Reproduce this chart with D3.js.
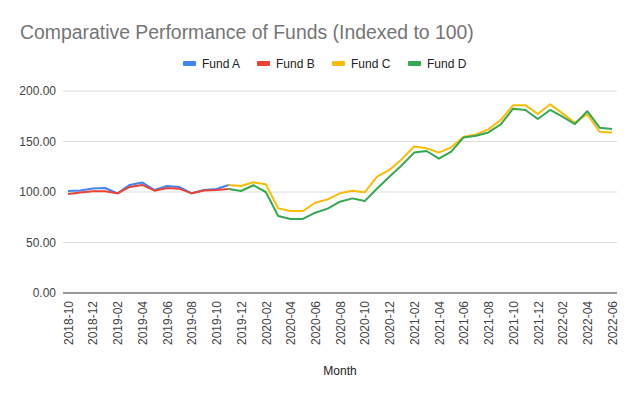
<!DOCTYPE html>
<html>
<head>
<meta charset="utf-8">
<script src="https://cdn.jsdelivr.net/npm/d3@7"></script>
<style>
  body { margin: 0; background: #fff; }
  svg { display: block; font-family: Arial, "Liberation Sans", sans-serif; }
</style>
</head>
<body>
<svg width="640" height="396"></svg>
<script>
// months 2018-10 .. 2022-06
var months = [];
for (var yr = 2018, mo = 10; yr < 2022 || (yr == 2022 && mo <= 6); mo++) {
  if (mo > 12) { mo = 1; yr++; }
  months.push(yr + "-" + (mo < 10 ? "0" + mo : mo));
}

var seriesNames = ["Fund A", "Fund B", "Fund C", "Fund D"];
var colors = ["#4285f4", "#ea4335", "#fbbc04", "#34a853"];

// Fund A / B: 2018-10 .. 2019-11
var fundA = [101, 101.5, 103.5, 104, 98.7, 107, 109.5, 102, 106, 105, 98.7, 102, 103, 107];
var fundB = [98, 99.5, 100.7, 100.7, 98.7, 105, 107, 101.3, 104, 103.3, 98.7, 101.5, 102, 103];
// Fund C / D: 2019-11 .. 2022-06
var fundC = [107, 106, 109.6, 107.6, 83.8, 81.2, 81.2, 89.4, 92.7, 98.7, 101.3, 99.7, 115.2, 121.8, 132.5,
             145, 143.3, 139, 144.2, 154.7, 157, 162, 171.3, 185.8, 186, 177.2, 186.8, 177.9, 168.6, 177, 159.7, 159];
var fundD = [103, 101, 106.7, 100, 76.2, 73.3, 73.3, 79.5, 83.5, 90.4, 93.7, 91, 103.5, 115, 126.5,
             139, 140.6, 133, 140, 154, 155.7, 159, 167, 182.5, 181.2, 172.3, 181.2, 174.6, 167.3, 180, 163.7, 162.4];
var startC = 13;

var yTicks = [0, 50, 100, 150, 200];

var svg = d3.select("svg");
var plotLeft = 63, plotRight = 617, plotTop = 91, plotBottom = 293;

var x = d3.scalePoint().domain(months).range([68, 612]);
var yScale = d3.scaleLinear().domain([0, 200]).range([plotBottom, plotTop]);

// title
svg.append("text").attr("x", 20).attr("y", 39).text("Comparative Performance of Funds (Indexed to 100)")
  .style("font-size", "19.4px").style("fill", "#757575");

// legend
var legendX = [183, 257, 332, 408];
seriesNames.forEach(function(name, i) {
  svg.append("rect").attr("x", legendX[i]).attr("y", 61).attr("width", 13).attr("height", 5)
    .attr("rx", 1).style("fill", colors[i]);
  svg.append("text").attr("x", legendX[i] + 19).attr("y", 68).text(name)
    .style("font-size", "12px").style("fill", "#222");
});

// grid
svg.append("g").selectAll("line").data(yTicks.filter(function(d) { return d > 0; })).enter().append("line")
  .attr("x1", plotLeft).attr("x2", plotRight)
  .attr("y1", function(d) { return yScale(d); }).attr("y2", function(d) { return yScale(d); })
  .style("stroke", "#dcdcdc").style("stroke-width", 1);

// y labels
svg.append("g").selectAll("text").data(yTicks).enter().append("text")
  .attr("x", 56).attr("y", function(d) { return yScale(d) + 4; })
  .attr("text-anchor", "end").text(function(d) { return d3.format(".2f")(d); })
  .style("font-size", "12px").style("fill", "#444");

// x axis labels
var xAxis = d3.axisBottom(x).tickValues(months.filter(function(d, i) { return i % 2 == 0; })).tickSize(0);
var gx = svg.append("g").attr("transform", "translate(0," + plotBottom + ")").call(xAxis);
gx.select(".domain").remove();
gx.selectAll("text")
  .attr("transform", "rotate(-90)")
  .attr("x", -8).attr("y", 0).attr("dy", "0.35em")
  .attr("text-anchor", "end")
  .style("font-size", "12px").style("fill", "#444").style("font-family", "Arial, 'Liberation Sans', sans-serif");

svg.append("line").attr("x1", plotLeft).attr("x2", plotRight).attr("y1", plotBottom).attr("y2", plotBottom)
  .style("stroke", "#333").style("stroke-width", 1);

svg.append("text").attr("x", 340).attr("y", 375).attr("text-anchor", "middle").text("Month")
  .style("font-size", "12px").style("fill", "#222");

// lines
var line = d3.line().x(function(d) { return x(d.m); }).y(function(d) { return yScale(d.v); });
var allData = [fundA, fundB, fundC, fundD];
allData.forEach(function(vals, k) {
  var off = k < 2 ? 0 : startC;
  var pts = vals.map(function(v, i) { return { m: months[i + off], v: v }; });
  svg.append("path").datum(pts).attr("d", line)
    .style("fill", "none").style("stroke", colors[k]).style("stroke-width", 2)
    .style("stroke-linejoin", "round");
});
</script>
</body>
</html>
